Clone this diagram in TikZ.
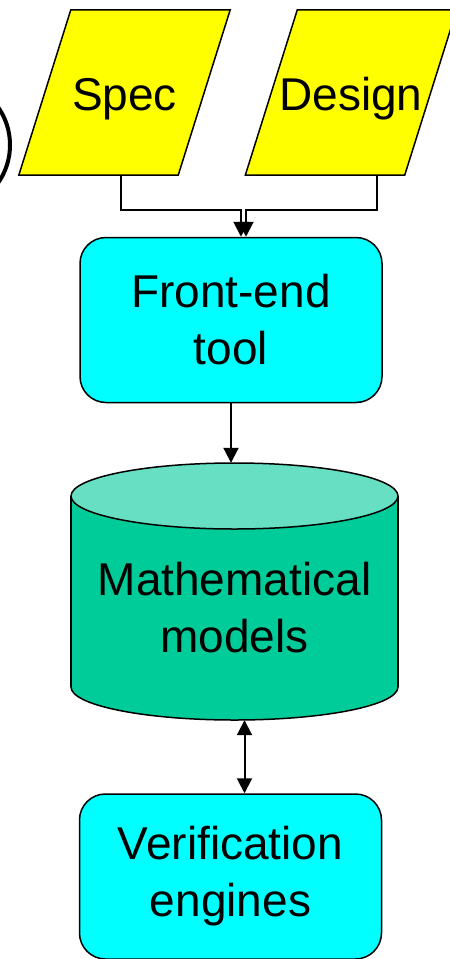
\documentclass[tikz,border=0pt]{standalone}
\usepackage{fontspec}
\setmainfont{Liberation Sans}
\definecolor{InYellow}{HTML}{FFFF00}
\definecolor{ToolCyan}{HTML}{00FFFF}
\definecolor{ModelBody}{HTML}{00CC99}
\definecolor{ModelTop}{HTML}{66DFC2}
\usetikzlibrary{arrows.meta,positioning,backgrounds}

\begin{document}
\begin{tikzpicture}[x=1pt,y=-1pt,
  input/.style={minimum width=159pt,minimum height=165pt,inner sep=0pt,
    text height=46pt,text depth=10pt,font=\fontsize{46}{57}\selectfont},
  slab/.style={draw,line width=1.5pt,fill=InYellow},
  tool/.style={draw,line width=1.5pt,fill=ToolCyan,rounded corners=26pt,
    minimum width=302pt,minimum height=165pt,align=center,
    font=\fontsize{46}{57}\selectfont},
  store/.style={minimum width=327pt,minimum height=257pt,inner sep=0pt},
  barrel/.style={line width=1.5pt},
  arr/.style={-{Triangle[length=15pt,width=15pt]},line width=2pt},
  biarr/.style={{Triangle[length=15pt,width=15pt]}-{Triangle[length=15pt,width=15pt]},line width=2pt}]
  \clip (0,0) rectangle (450,959);
  \useasboundingbox (0,0) rectangle (450,959);
  % partly hidden shape at the left edge
  \draw[line width=4pt] (-56,145) circle (66);
  \node[input](spec) at (124.5,92.5) {Spec};
  \node[input](des) at (351,92.5) {Design};
  \begin{scope}[on background layer]
    \foreach \n in {spec,des}
      \draw[slab] ([xshift=26pt]\n.north west) -- ([xshift=26pt]\n.north east)
        -- ([xshift=-26pt]\n.south east) -- ([xshift=-26pt]\n.south west) -- cycle;
  \end{scope}
  \node[tool](fe) at (231,320) {Front-end\\tool};
  % database barrel
  \node[store](mm) at (234.5,591.5) {};
  \fill[ModelBody,draw=black,barrel] (234.5,687) ellipse [x radius=163.5,y radius=33];
  \fill[ModelBody] (71,496) rectangle (398,687);
  \draw[barrel] (71,496) -- (71,687) (398,496) -- (398,687);
  \filldraw[fill=ModelTop,barrel] (234.5,496) ellipse [x radius=163.5,y radius=33];
  \node[align=center,font=\fontsize{46}{57}\selectfont](mmtext)
    at ([yshift=-16pt]mm.center) {Mathematical\\models};
  \node[tool](ve) at (230.5,876.5) {Verification\\engines};
  \coordinate (join) at (0,210);
  \draw[arr] ([xshift=-4pt]spec.south) |- ([xshift=10pt]fe.north |- join)
    -- ([xshift=10pt]fe.north);
  \draw[arr] ([xshift=26pt]des.south) |- ([xshift=15pt]fe.north |- join)
    -- ([xshift=15pt]fe.north);
  \draw[arr] (fe.south) -- (fe.south |- mm.north);
  \draw[biarr] ([xshift=10pt]mm.south) -- ([xshift=10pt]mm.south |- ve.north);
\end{tikzpicture}
\end{document}
